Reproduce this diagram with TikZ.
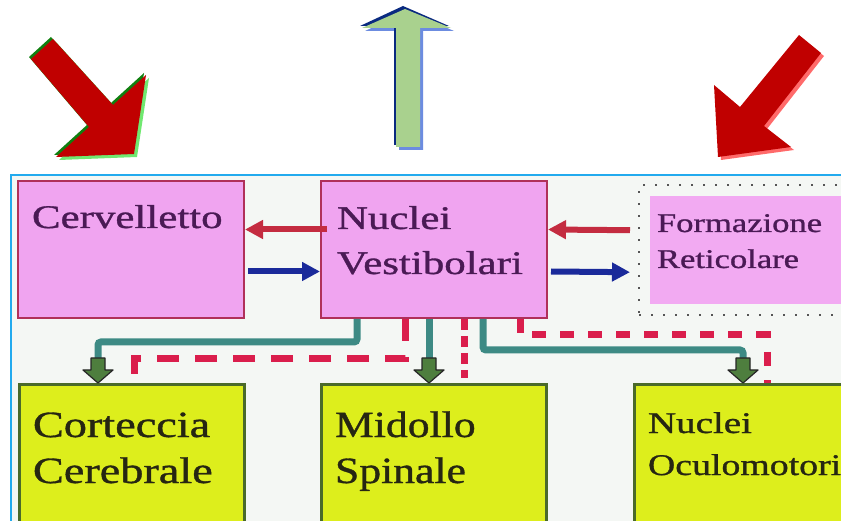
\documentclass[tikz,border=0pt]{standalone}
\usepackage{fontspec}
\setmainfont{Liberation Serif}
\newfontfamily\heavyserif[FakeBold=0.9]{Liberation Serif}
\usepackage{graphicx}
\usetikzlibrary{arrows.meta,calc}
\definecolor{pinkfill}{HTML}{F0A4F0}
\definecolor{pinkin}{HTML}{F2AAF2}
\definecolor{pinkedge}{HTML}{B0305A}
\definecolor{yelfill}{HTML}{DDEE1C}
\definecolor{yeledge}{HTML}{4A6A2A}
\definecolor{panelbg}{HTML}{F4F7F4}
\definecolor{paneledge}{HTML}{22AAEE}
\definecolor{tealc}{HTML}{3D8A84}
\definecolor{dashred}{HTML}{DA1E4C}
\definecolor{headgreen}{HTML}{4E7E3E}
\definecolor{toptxt}{HTML}{4A1A55}
\definecolor{bottxt}{HTML}{262612}
\definecolor{bigred}{HTML}{C00000}
\definecolor{hred}{HTML}{C42C40}
\definecolor{hblue}{HTML}{1A2A9A}
\definecolor{lgreen}{HTML}{A9D18E}
\definecolor{dgreenedge}{HTML}{108010}
\definecolor{lgreenedge}{HTML}{70E870}
\definecolor{dblueedge}{HTML}{0A2A80}
\definecolor{lblueedge}{HTML}{6C8CE0}
\definecolor{lrededge}{HTML}{FF6A6A}
\definecolor{dotc}{HTML}{555555}
\begin{document}
\begin{tikzpicture}[x=1pt,y=-1pt,
  pinkbox/.style={draw=pinkedge, line width=2pt, fill=pinkfill, inner sep=0pt, anchor=north west},
  yelbox/.style={draw=yeledge, line width=2.5pt, fill=yelfill, inner sep=0pt, anchor=north west},
  lbl/.style={anchor=base west, inner sep=0pt, outer sep=0pt},
  toplbl/.style={lbl, text=toptxt, font=\heavyserif\fontsize{33}{40}\selectfont},
  retlbl/.style={lbl, text=toptxt, font=\heavyserif\fontsize{27}{32}\selectfont},
  botlbl/.style={lbl, text=bottxt, font=\heavyserif\fontsize{37}{44}\selectfont},
  ocllbl/.style={lbl, text=bottxt, font=\heavyserif\fontsize{30}{36}\selectfont},
  tealline/.style={draw=tealc, line width=7pt, rounded corners=3pt},
  reddash/.style={draw=dashred, line width=7pt},
  fatred/.style={draw=hred, line width=6pt, -{Triangle[length=18pt,width=18pt]}},
  fatblue/.style={draw=hblue, line width=6pt, -{Triangle[length=18pt,width=18pt]}},
  headpic/.pic={\draw[fill=headgreen, draw=black!85, line width=1.2pt, line join=round]
     (-7,-25) -- (7,-25) -- (7,-13) -- (15,-13) -- (0,0) -- (-15,-13) -- (-7,-13) -- cycle;}
]
\path[use as bounding box] (0,0) rectangle (841,521);
\clip (0,0) rectangle (841,521);
\fill[white] (0,0) rectangle (841,521);

% panel
\draw[fill=panelbg, draw=paneledge, line width=2pt] (11,175) rectangle (860,540);

% top boxes
\node[pinkbox, minimum width=226pt, minimum height=137pt] (cerv) at (17,180) {};
\node[pinkbox, minimum width=226pt, minimum height=137pt] (nv) at (320,180) {};
\node[anchor=north west, inner sep=0pt, draw=dotc, line width=2.4pt, dash pattern=on 2pt off 10pt,
      minimum width=220pt, minimum height=130pt] (frame) at (638,184) {};
\node[anchor=north west, inner sep=0pt, fill=pinkin, minimum width=200pt, minimum height=108pt] (ret) at (650,196) {};

% bottom boxes
\node[yelbox, minimum width=225pt, minimum height=160pt] (cort) at (18,383) {};
\node[yelbox, minimum width=225pt, minimum height=160pt] (mid) at (320,383) {};
\node[yelbox, minimum width=230pt, minimum height=160pt] (ocul) at (633,383) {};

% labels
\node[toplbl] (t1) at (32,228) {\scalebox{1.3}[1]{Cervelletto}};
\node[toplbl] (t2) at (337,229) {\scalebox{1.3}[1]{Nuclei}};
\node[toplbl] (t3) at (337,274) {\scalebox{1.3}[1]{Vestibolari}};
\node[retlbl] (t4) at (657,232) {\scalebox{1.28}[1]{Formazione}};
\node[retlbl] (t5) at (657,268) {\scalebox{1.28}[1]{Reticolare}};
\node[botlbl] (t6) at (33,437) {\scalebox{1.25}[1]{Corteccia}};
\node[botlbl] (t7) at (33,483) {\scalebox{1.25}[1]{Cerebrale}};
\node[botlbl] (t8) at (335,437) {\scalebox{1.18}[1]{Midollo}};
\node[botlbl] (t9) at (335,483) {\scalebox{1.18}[1]{Spinale}};
\node[ocllbl] (t10) at (648,433) {\scalebox{1.3}[1]{Nuclei}};
\node[ocllbl] (t11) at (648,475) {\scalebox{1.26}[1]{Oculomotori}};

% horizontal arrows
\draw[fatred] ([xshift=7pt,yshift=20pt]nv.west) -- ([yshift=20pt]cerv.east);
\draw[fatblue] ([xshift=3pt,yshift=-22pt]cerv.east) -- ([yshift=-22pt]nv.west);
\draw[fatred] ([xshift=-8pt,yshift=20pt]frame.west) -- ([yshift=20pt]nv.east);
\draw[fatblue] ([xshift=3pt,yshift=-22pt]nv.east) -- ([xshift=-8pt,yshift=-22pt]frame.west);

% teal connectors
\draw[tealline] ($(nv.south west)+(37,0)$) |- ($(cort.north west)+(80,-41)$) -- ($(cort.north west)+(80,-20)$);
\draw[tealline] ($(nv.south west)+(109,0)$) -- ($(mid.north west)+(109,-20)$);
\draw[tealline] ($(nv.south west)+(163,0)$) |- ($(ocul.north west)+(110,-33)$) -- ($(ocul.north west)+(110,-20)$);

% red dashed connectors
\draw[reddash, dash pattern=on 22pt off 16pt] ($(nv.south west)+(85,0)$) |- ($(cort.north west)+(116,-24)$) -- ($(cort.north west)+(116,0)$);
\draw[reddash, dash pattern=on 11pt off 6pt] ($(nv.south west)+(144,0)$) -- ($(mid.north west)+(144,-5)$);
\draw[reddash, dash pattern=on 14pt off 14pt] ($(nv.south west)+(200,0)$) |- ($(ocul.north west)+(134,-48)$) -- ($(ocul.north west)+(134,0)$);

% arrow heads
\pic at ($(cort.north west)+(80,0)$) {headpic};
\pic at ($(mid.north west)+(109,0)$) {headpic};
\pic at ($(ocul.north west)+(110,0)$) {headpic};

% big top arrows
% left red
\fill[lgreenedge] (34,62) -- (56,42) -- (116,108) -- (149,78) -- (137,157) -- (59,160) -- (92,130) -- cycle;
\fill[dgreenedge] (29,57) -- (51,37) -- (111,103) -- (144,73) -- (132,152) -- (54,155) -- (87,125) -- cycle;
\fill[bigred] (31,59) -- (53,39) -- (113,105) -- (146,75) -- (134,154) -- (56,157) -- (89,127) -- cycle;
% green up
\fill[lblueedge] (408,11) -- (454,31) -- (423,31) -- (423,150) -- (399,150) -- (399,31) -- (365,31) -- cycle;
\fill[dblueedge] (403,6) -- (449,26) -- (418,26) -- (418,145) -- (394,145) -- (394,26) -- (360,26) -- cycle;
\fill[lgreen] (405,9) -- (451,28) -- (420,28) -- (420,147) -- (396,147) -- (396,28) -- (362,28) -- cycle;
% right red
\fill[lrededge] (802,38) -- (824,56) -- (767,129) -- (794,150) -- (721,160) -- (717,88) -- (743,110) -- cycle;
\fill[bigred] (799,35) -- (821,53) -- (764,126) -- (791,147) -- (718,157) -- (714,85) -- (740,107) -- cycle;
\end{tikzpicture}
\end{document}
